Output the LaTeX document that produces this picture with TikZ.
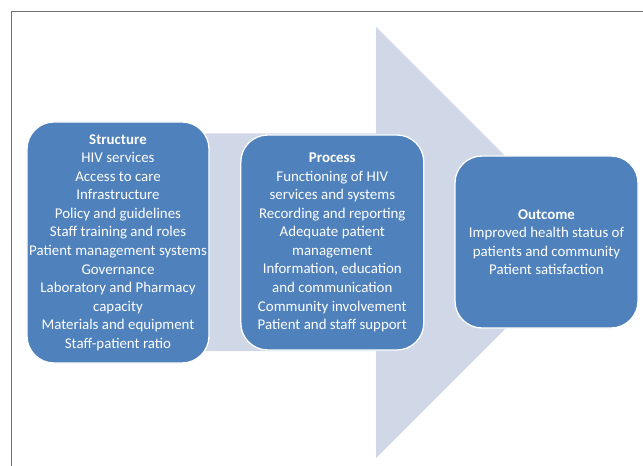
\documentclass[tikz,border=0pt]{standalone}
\usepackage{fontspec}
\setmainfont{Carlito}
\definecolor{boxblue}{HTML}{4F81BD}
\definecolor{arrowfill}{HTML}{D0D8E8}
\definecolor{framegray}{HTML}{707070}
\begin{document}
\begin{tikzpicture}[x=1bp,y=-1bp,
  stagebox/.style={draw=white, line width=1.3bp, fill=boxblue, rounded corners=27bp,
    text=white, align=center, inner sep=0pt,
    font=\fontsize{14.9bp}{18.55bp}\selectfont},
  bigarrow/.style={fill=arrowfill, draw=none}]
\useasboundingbox (0,0) rectangle (643,466);
% frame
\draw[framegray, line width=1bp] (11,470) -- (11,12) -- (647,12);
% big background arrow
\fill[arrowfill] (60,133.5) -- (376,133.5) -- (376,27) -- (591.5,242.5) -- (376,458) -- (376,351) -- (60,351) -- cycle;
% boxes
\node[stagebox, minimum width=182bp, minimum height=241bp] (structure) at (118,242.5)
  {\textbf{Structure}\\HIV services\\Access to care\\Infrastructure\\Policy and guidelines\\Staff training and roles\\Patient management systems\\Governance\\Laboratory and Pharmacy\\capacity\\Materials and equipment\\Staff-patient ratio};
\node[stagebox, minimum width=183bp, minimum height=215bp] (process) at (332.3,242.5)
  {\textbf{Process}\\Functioning of HIV\\services and systems\\Recording and reporting\\Adequate patient\\management\\Information, education\\and communication\\Community involvement\\Patient and staff support};
\node[stagebox, minimum width=183bp, minimum height=172bp] (outcome) at (546.5,242)
  {\textbf{Outcome}\\Improved health status of\\patients and community\\Patient satisfaction};
\end{tikzpicture}
\end{document}
